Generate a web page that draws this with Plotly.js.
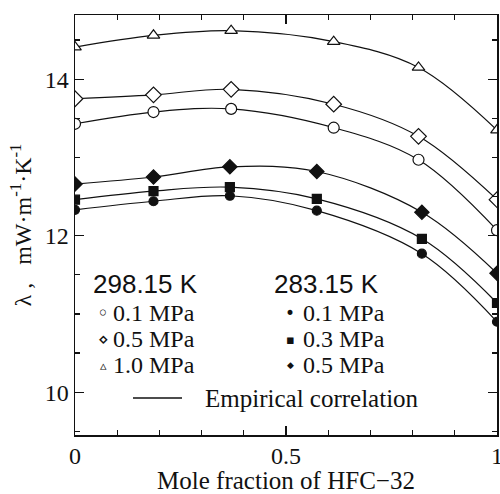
<!DOCTYPE html>
<html>
<head>
<meta charset="utf-8">
<script src="https://cdn.plot.ly/plotly-3.0.1.min.js"></script>
<style>html,body{margin:0;padding:0;background:#fff;}#chart{width:500px;height:494px;}</style>
</head>
<body>
<div id="chart"></div>
<script>
// Mole fraction of HFC-32
const xOpen   = [0, 0.186, 0.37, 0.613, 0.814, 1.0];
const xFilled = [0, 0.186, 0.367, 0.573, 0.822, 1.0];

// 298.15 K (open symbols)
const k298_01 = [13.43, 13.58, 13.62, 13.38, 12.97, 12.07];
const k298_05 = [13.75, 13.80, 13.87, 13.68, 13.27, 12.46];
const k298_10 = [14.41, 14.56, 14.62, 14.48, 14.15, 13.35];

// 283.15 K (filled symbols)
const k283_01 = [12.33, 12.44, 12.51, 12.32, 11.77, 10.90];
const k283_03 = [12.46, 12.57, 12.62, 12.47, 11.96, 11.14];
const k283_05 = [12.66, 12.75, 12.88, 12.82, 12.30, 11.52];

const xTickVals = [0, 0.5, 1];
const xTickText = ['0', '0.5', '1'];
const yTickVals = [10, 12, 14];
const yTickText = ['10', '12', '14'];

const serif = 'Liberation Serif, Times New Roman, serif';
const sans = 'Liberation Sans, Arial, sans-serif';

function series(x, y, symbol, filled, size) {
  return {
    x: x, y: y, type: 'scatter', mode: 'lines+markers',
    line: {color: '#111', width: 1.2, shape: 'spline', smoothing: 1},
    marker: {symbol: symbol, size: size, color: filled ? '#111' : '#fff',
             line: {color: '#111', width: 1.2}},
    showlegend: false, hoverinfo: 'skip'
  };
}

const data = [
  series(xOpen, k298_01, 'circle', false, 11),
  series(xOpen, k298_05, 'diamond', false, 12),
  series(xOpen, k298_10, 'triangle-up', false, 11),
  series(xFilled, k283_01, 'circle', true, 9),
  series(xFilled, k283_03, 'square', true, 9),
  series(xFilled, k283_05, 'diamond', true, 11)
];

// legend helpers (paper coordinates)
function px(v) { return (v - 75) / 422; }
function py(v) { return (435 - v) / 420; }

const rowsY = [313, 339, 365];
const leftSym = ['◦', '⋄', '▵'];
const leftSymSize = [20, 17, 13];
const leftTxt = ['0.1 MPa', '0.5 MPa', '1.0 MPa'];
const rightSym = ['•', '▪', '◆'];
const rightSymSize = [17, 13, 9];
const rightTxt = ['0.1 MPa', '0.3 MPa', '0.5 MPa'];

const annotations = [
  {text: '298.15 K', x: px(91), y: py(284), xref: 'paper', yref: 'paper', xanchor: 'left', yanchor: 'middle', showarrow: false, font: {family: sans, size: 26, color: '#111'}},
  {text: '283.15 K', x: px(272), y: py(284), xref: 'paper', yref: 'paper', xanchor: 'left', yanchor: 'middle', showarrow: false, font: {family: sans, size: 26, color: '#111'}},
  {text: 'Empirical correlation', x: px(203), y: py(398), xref: 'paper', yref: 'paper', xanchor: 'left', yanchor: 'middle', showarrow: false, font: {family: serif, size: 25, color: '#111'}}
];
rowsY.forEach((r, i) => {
  annotations.push({text: leftSym[i], x: px(103), y: py(r), xref: 'paper', yref: 'paper', xanchor: 'center', yanchor: 'middle', showarrow: false, font: {family: 'DejaVu Sans', size: leftSymSize[i], color: '#111'}});
  annotations.push({text: leftTxt[i], x: px(111), y: py(r), xref: 'paper', yref: 'paper', xanchor: 'left', yanchor: 'middle', showarrow: false, font: {family: serif, size: 24, color: '#111'}});
  annotations.push({text: rightSym[i], x: px(290), y: py(r), xref: 'paper', yref: 'paper', xanchor: 'center', yanchor: 'middle', showarrow: false, font: {family: 'DejaVu Sans', size: rightSymSize[i], color: '#111'}});
  annotations.push({text: rightTxt[i], x: px(301), y: py(r), xref: 'paper', yref: 'paper', xanchor: 'left', yanchor: 'middle', showarrow: false, font: {family: serif, size: 24, color: '#111'}});
});

const layout = {
  width: 500, height: 494,
  margin: {l: 75, r: 3, t: 15, b: 59},
  paper_bgcolor: '#fff', plot_bgcolor: '#fff',
  font: {family: serif, color: '#111'},
  xaxis: {
    range: [0, 1], tickvals: xTickVals, ticktext: xTickText,
    ticks: 'inside', ticklen: 9, tickwidth: 1.2, tickcolor: '#111',
    minor: {ticks: 'inside', dtick: 0.1, ticklen: 5, tickwidth: 1.2, tickcolor: '#111', showgrid: false},
    showline: true, linecolor: '#111', linewidth: 1.5, mirror: 'allticks',
    showgrid: false, zeroline: false, ticklabelstandoff: -1, ticklabeloverflow: 'allow',
    tickfont: {family: serif, size: 24, color: '#111'},
    title: {text: 'Mole fraction of HFC\u221232', font: {family: serif, size: 25, color: '#111'}, standoff: 0}
  },
  yaxis: {
    range: [9.453, 14.82], tickvals: yTickVals, ticktext: yTickText,
    ticks: 'inside', ticklen: 9, tickwidth: 1.2, tickcolor: '#111',
    minor: {ticks: 'inside', dtick: 0.5, ticklen: 5, tickwidth: 1.2, tickcolor: '#111', showgrid: false},
    showline: true, linecolor: '#111', linewidth: 1.5, mirror: 'allticks',
    showgrid: false, zeroline: false,
    tickfont: {family: serif, size: 24, color: '#111'},
    title: {text: '\u03bb ,   mW\u00b7m<sup>-1</sup>\u00b7K<sup>-1</sup>', font: {family: serif, size: 24, color: '#111'}, standoff: 6}
  },
  annotations: annotations,
  shapes: [
    {type: 'line', xref: 'paper', yref: 'paper', x0: px(133), x1: px(182), y0: py(398), y1: py(398), line: {color: '#111', width: 1.3}}
  ]
};

Plotly.newPlot('chart', data, layout, {displayModeBar: false, staticPlot: true});
</script>
</body>
</html>
